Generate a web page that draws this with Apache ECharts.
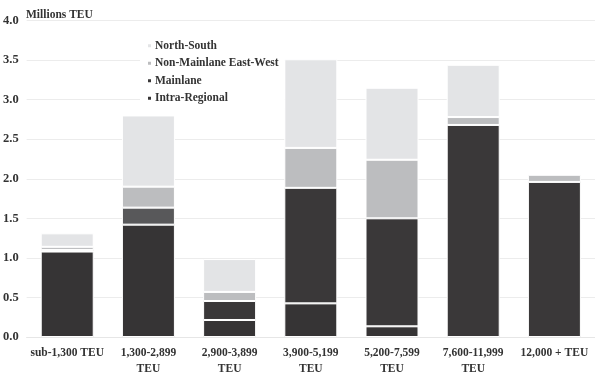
<!DOCTYPE html>
<html>
<head>
<meta charset="utf-8">
<script src="https://cdn.jsdelivr.net/npm/echarts@6/dist/echarts.min.js"></script>
<style>
  html, body { margin: 0; padding: 0; background: #fff; }
  #chart { width: 595px; height: 377px; }
</style>
</head>
<body>
<div id="chart"></div>
<script>
// vessel size bands
const categories = ['sub-1,300 TEU', '1,300-2,899\nTEU', '2,900-3,899\nTEU', '3,900-5,199\nTEU',
  '5,200-7,599\nTEU', '7,600-11,999\nTEU', '12,000 + TEU'];

// millions TEU per trade
const intraRegional = [1.08, 1.42, 0.215, 0.425, 0.135, 0, 0];
const mainlane = [0.02, 0.215, 0.24, 1.46, 1.365, 2.68, 1.96];
const nonMainlaneEW = [0.04, 0.265, 0.115, 0.505, 0.74, 0.10, 0.09];
const northSouth = [0.17, 0.90, 0.415, 1.12, 0.91, 0.66, 0];

const yTicks = ['0.0', '0.5', '1.0', '1.5', '2.0', '2.5', '3.0', '3.5', '4.0'];

const font = '"Liberation Serif", "Times New Roman", serif';
const textColor = '#333';

const chart = echarts.init(document.getElementById('chart'));

function bar(name, values, color, overrides) {
  return {
    name: name,
    type: 'bar',
    stack: 'total',
    barWidth: 53,
    itemStyle: { color: color, borderColor: '#fff', borderWidth: 1 },
    emphasis: { disabled: true },
    data: values.map((v, i) => {
      if (v === 0) return null;
      if (overrides && overrides[i]) return { value: v, itemStyle: { color: overrides[i] } };
      return v;
    })
  };
}

const option = {
  animation: false,
  backgroundColor: '#fff',
  title: {
    text: 'Millions TEU',
    left: 21,
    top: 4,
    textStyle: { fontFamily: font, fontSize: 11.5, fontWeight: 'bold', color: textColor }
  },
  legend: {
    data: ['North-South', 'Non-Mainlane East-West', 'Mainlane', 'Intra-Regional'],
    orient: 'vertical',
    left: 140,
    top: 36,
    padding: [3, 6, 3, 6],
    backgroundColor: '#fff',
    icon: 'rect',
    itemWidth: 5,
    itemHeight: 5,
    itemGap: 4,
    textStyle: { fontFamily: font, fontSize: 11.5, fontWeight: 'bold', color: textColor, lineHeight: 13.5, padding: [0, 0, 0, -2] }
  },
  grid: { left: 26, right: 0, top: 20.5, bottom: 34.5 },
  xAxis: {
    type: 'category',
    data: categories,
    axisLine: { lineStyle: { color: '#e6e6e6' } },
    axisTick: { show: false },
    axisLabel: {
      interval: 0,
      margin: 8,
      fontFamily: font,
      fontSize: 11.5,
      fontWeight: 'bold',
      color: textColor,
      lineHeight: 16
    }
  },
  yAxis: {
    type: 'value',
    min: 0,
    max: 4,
    interval: 0.5,
    axisLine: { show: false },
    axisTick: { show: false },
    splitLine: { lineStyle: { color: '#ececec', width: 1 } },
    axisLabel: {
      margin: 8,
      fontFamily: font,
      fontSize: 12.5,
      fontWeight: 'bold',
      color: textColor,
      formatter: (v) => yTicks[Math.round(v / 0.5)]
    }
  },
  series: [
    bar('Intra-Regional', intraRegional, '#363435'),
    bar('Mainlane', mainlane, '#3a3839', { 1: '#58585a' }),
    bar('Non-Mainlane East-West', nonMainlaneEW, '#bcbdbf'),
    bar('North-South', northSouth, '#e3e4e6')
  ]
};

chart.setOption(option);
</script>
</body>
</html>
